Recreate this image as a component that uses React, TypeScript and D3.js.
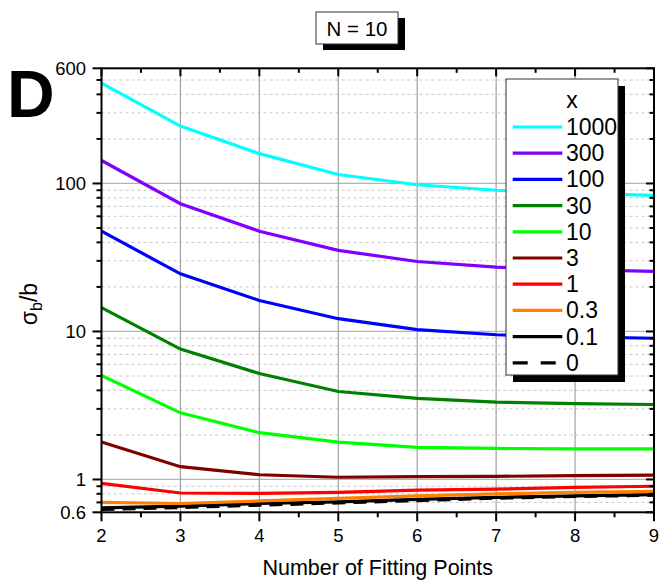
import React from "react";
import * as d3 from "d3";

// Number of fitting points (x axis)
const fitPoints = [2, 3, 4, 5, 6, 7, 8, 9];

// Relative error sigma_b / b for each x value
const s1000 = [476, 244, 159, 115, 98, 90, 86, 83];
const s300 = [143, 73, 47.6, 35.3, 29.7, 27.2, 26.2, 25.5];
const s100 = [47.6, 24.5, 16.2, 12.2, 10.3, 9.5, 9.2, 9.0];
const s30 = [14.5, 7.6, 5.2, 3.93, 3.53, 3.33, 3.25, 3.21];
const s10 = [5.04, 2.82, 2.07, 1.79, 1.65, 1.62, 1.61, 1.61];
const s3 = [1.79, 1.22, 1.076, 1.035, 1.045, 1.05, 1.06, 1.07];
const s1 = [0.94, 0.81, 0.805, 0.817, 0.846, 0.86, 0.883, 0.9];
const s03 = [0.7, 0.688, 0.716, 0.744, 0.775, 0.8, 0.817, 0.83];
const s01 = [0.643, 0.66, 0.688, 0.706, 0.733, 0.756, 0.775, 0.79];
const s0 = [0.627, 0.647, 0.67, 0.695, 0.72, 0.748, 0.767, 0.783];

const seriesLabels = ["1000", "300", "100", "30", "10", "3", "1", "0.3", "0.1", "0"];
const seriesValues = [s1000, s300, s100, s30, s10, s3, s1, s03, s01, s0];
const seriesColors = [
  "#00ffff",
  "#8000ff",
  "#0000ff",
  "#008000",
  "#00ff00",
  "#800000",
  "#ff0000",
  "#ff8000",
  "#000000",
  "#000000",
];
const seriesDashed = [false, false, false, false, false, false, false, false, false, true];

const yMajorTicks = [0.6, 1, 10, 100, 600];
const yMajorLabels = ["0.6", "1", "10", "100", "600"];
const yGridMajor = [1, 10, 100];
const yMinor = [0.7, 0.8, 0.9, 2, 3, 4, 5, 6, 7, 8, 9, 20, 30, 40, 50, 60, 70, 80, 90, 200, 300, 400, 500];
const xMinor = [2.5, 3.5, 4.5, 5.5, 6.5, 7.5, 8.5];

const W = 661;
const H = 582;
const L = 101.5;
const R = 654;
const T = 68.3;
const B = 512.3;

const FONT = "'Liberation Sans', Arial, sans-serif";

export default function App() {
  const x = d3.scaleLinear().domain([2, 9]).range([L, R]);
  const y = d3.scaleLog().domain([0.6, 600]).range([B, T]);
  const line = d3
    .line<number>()
    .x((_, i) => x(fitPoints[i]))
    .y((d) => y(d));

  const legX = 506;
  const legY = 79;
  const legW = 112;
  const legH = 296;
  const rowBase = 135;
  const rowStep = 26.2;

  return (
    <svg width={W} height={H} style={{ position: "absolute", left: 0, top: 0 }} fontFamily={FONT}>
      <rect x={0} y={0} width={W} height={H} fill="#fff" />

      {/* minor dashed grid */}
      {yMinor.map((v) => (
        <line key={"gm" + v} x1={L} x2={R} y1={y(v)} y2={y(v)} stroke="#c8c8c8" strokeWidth={1} strokeDasharray="3,3" />
      ))}
      {/* major grid */}
      {yGridMajor.map((v) => (
        <line key={"gM" + v} x1={L} x2={R} y1={y(v)} y2={y(v)} stroke="#b4b4b4" strokeWidth={1.2} />
      ))}
      {fitPoints.slice(1, -1).map((v) => (
        <line key={"gx" + v} x1={x(v)} x2={x(v)} y1={T} y2={B} stroke="#a0a0a0" strokeWidth={1.2} />
      ))}

      {/* data lines */}
      {seriesValues
        .map((vals, i) => ({ vals, i }))
        .reverse()
        .map(({ vals, i }) => (
          <path
            key={"s" + i}
            d={line(vals) || ""}
            fill="none"
            stroke={seriesColors[i]}
            strokeWidth={3.2}
            strokeDasharray={seriesDashed[i] ? "13,8" : undefined}
          />
        ))}

      {/* frame */}
      <rect x={L} y={T} width={R - L} height={B - T} fill="none" stroke="#000" strokeWidth={2} />

      {/* x ticks */}
      {fitPoints.map((v) => (
        <g key={"xt" + v}>
          <line x1={x(v)} x2={x(v)} y1={B} y2={B + 9} stroke="#000" strokeWidth={2} />
          <line x1={x(v)} x2={x(v)} y1={T} y2={T + 8} stroke="#000" strokeWidth={2} />
          <text x={x(v)} y={541.5} textAnchor="middle" fontSize={18.5} fill="#000">
            {v}
          </text>
        </g>
      ))}
      {xMinor.map((v) => (
        <g key={"xm" + v}>
          <line x1={x(v)} x2={x(v)} y1={B} y2={B + 5} stroke="#000" strokeWidth={2} />
          <line x1={x(v)} x2={x(v)} y1={T} y2={T + 4.5} stroke="#000" strokeWidth={2} />
        </g>
      ))}

      {/* y ticks */}
      {yMajorTicks.map((v, i) => (
        <g key={"yt" + v}>
          <line x1={L - 9} x2={L} y1={y(v)} y2={y(v)} stroke="#000" strokeWidth={2} />
          <line x1={R - 8} x2={R} y1={y(v)} y2={y(v)} stroke="#000" strokeWidth={2} />
          <text x={86} y={y(v) + 6.5} textAnchor="end" fontSize={18.5} fill="#000">
            {yMajorLabels[i]}
          </text>
        </g>
      ))}
      {yMinor.map((v) => (
        <g key={"ym" + v}>
          <line x1={L - 5} x2={L} y1={y(v)} y2={y(v)} stroke="#000" strokeWidth={2} />
          <line x1={R - 4.5} x2={R} y1={y(v)} y2={y(v)} stroke="#000" strokeWidth={2} />
        </g>
      ))}

      {/* axis titles */}
      <text x={(L + R) / 2} y={575} textAnchor="middle" fontSize={21.5} fill="#000">
        Number of Fitting Points
      </text>
      <text transform="translate(37,304) rotate(-90)" textAnchor="middle" fontSize={23} fill="#000">
        σ
        <tspan fontSize={16} dy={5}>
          b
        </tspan>
        <tspan dy={-5}>/b</tspan>
      </text>

      {/* panel letter */}
      <text x={7} y={116.5} fontSize={66} fontWeight="bold" fill="#000">
        D
      </text>

      {/* title box */}
      <rect x={323} y={18} width={82} height={32} fill="#000" />
      <rect x={316} y={12} width={82} height={32} fill="#fff" stroke="#333" strokeWidth={1} />
      <text x={357} y={36} textAnchor="middle" fontSize={20.5} fill="#000">
        N = 10
      </text>

      {/* legend */}
      <rect x={legX + 7} y={legY + 7} width={legW} height={legH} fill="#000" />
      <rect x={legX} y={legY} width={legW} height={legH} fill="#fff" stroke="#333" strokeWidth={1} />
      <text x={572} y={108.3} textAnchor="middle" fontSize={23} fill="#000">
        x
      </text>
      {seriesLabels.map((lab, i) => {
        const by = rowBase + i * rowStep;
        return (
          <g key={"lg" + i}>
            <line
              x1={512.7}
              x2={562.3}
              y1={by - 8}
              y2={by - 8}
              stroke={seriesColors[i]}
              strokeWidth={3.2}
              strokeDasharray={seriesDashed[i] ? "15,13" : undefined}
            />
            <text x={566} y={by} fontSize={23} fill="#000">
              {lab}
            </text>
          </g>
        );
      })}
    </svg>
  );
}
